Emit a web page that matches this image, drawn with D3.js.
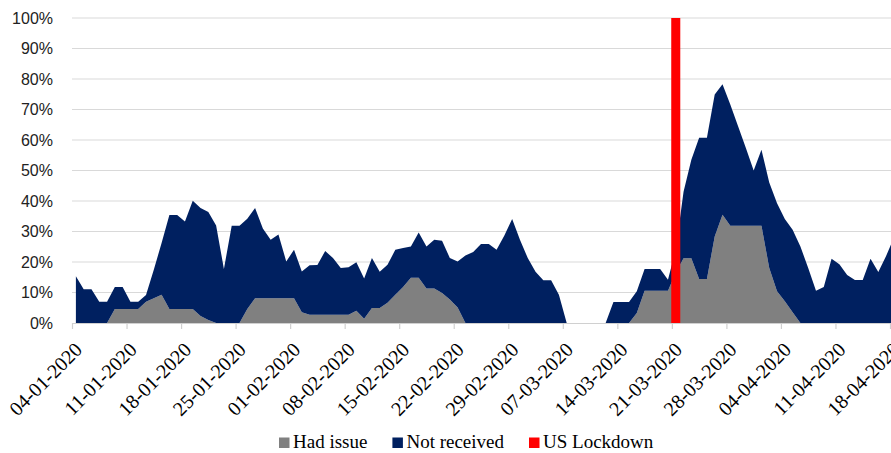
<!DOCTYPE html>
<html>
<head>
<meta charset="utf-8">
<script src="https://cdn.jsdelivr.net/npm/d3@7"></script>
<style>
  body { margin: 0; background: #fff; }
  svg { display: block; }
</style>
</head>
<body>
<div id="chart"></div>
<script>
// daily shares, first value is 04-01-2020
const startDate = "2020-01-04";

const hadIssue = [
    0, 0, 0, 0, 0, 4.6, 4.6, 4.6, 4.6, 7.0,
    8.1, 9.3, 4.6, 4.6, 4.6, 4.6, 2.3, 1.0, 0, 0,
    0, 0, 4.6, 8.1, 8.1, 8.1, 8.1, 8.1, 8.1, 3.5,
    2.7, 2.7, 2.7, 2.7, 2.7, 2.7, 4.0, 1.4, 4.9, 4.9,
    6.6, 9.3, 11.8, 14.8, 14.8, 11.3, 11.3, 9.8, 7.7, 5.1,
    0, 0, 0, 0, 0, 0, 0, 0, 0, 0,
    0, 0, 0, 0, 0, 0, 0, 0, 0, 0,
    0, 0, 3.3, 10.6, 10.6, 10.6, 10.6, 16.5, 21.2, 21.2,
    14.4, 14.4, 28.4, 35.5, 31.9, 31.9, 31.9, 31.9, 31.9, 18.0,
    10.4, 7.1, 3.5, 0, 0, 0, 0, 0, 0, 0,
    0, 0, 0, 0, 0, 0
];

const notReceived = [
    15.3, 11.1, 11.1, 7.0, 7.0, 7.2, 7.2, 2.4, 2.4, 2.2,
    9.4, 16.9, 30.8, 30.8, 28.7, 35.5, 35.4, 35.4, 32.0, 17.7,
    31.9, 31.9, 29.6, 29.6, 22.9, 19.2, 20.9, 12.1, 15.9, 13.4,
    16.2, 16.3, 20.9, 18.6, 15.3, 15.6, 15.9, 13.2, 16.4, 11.9,
    12.5, 14.7, 12.8, 10.3, 14.9, 13.8, 16.0, 17.2, 13.6, 15.1,
    22.1, 23.3, 25.9, 25.9, 24.0, 28.7, 34.1, 27.3, 21.3, 16.8,
    14.0, 14.0, 9.3, 0, 0, 0, 0, 0, 0, 6.9,
    6.9, 6.9, 7.1, 7.1, 7.1, 7.1, 3.6, 7.5, 21.8, 32.3,
    46.3, 46.3, 46.5, 42.8, 39.7, 32.6, 25.5, 18.1, 24.9, 28.1,
    28.9, 27.0, 27.1, 25.1, 18.0, 10.6, 11.8, 21.1, 19.3, 15.7,
    14.1, 14.1, 21.1, 16.7, 22.0, 28.0
];

const lockdownDate = "2020-03-21";
const lockdownValue = 100;

const tickLabels = [
    "04-01-2020", "11-01-2020", "18-01-2020", "25-01-2020",
    "01-02-2020", "08-02-2020", "15-02-2020", "22-02-2020",
    "29-02-2020", "07-03-2020", "14-03-2020", "21-03-2020",
    "28-03-2020", "04-04-2020", "11-04-2020", "18-04-2020"
];

const yTicks = [0, 10, 20, 30, 40, 50, 60, 70, 80, 90, 100];

const seriesNames = ["Had issue", "Not received", "US Lockdown"];
const seriesColors = ["#808080", "#002060", "#ff0000"];

const width = 891, height = 453;
const margin = {top: 18, right: 1, bottom: 130, left: 72};
const plotBottom = height - margin.bottom;

const svg = d3.select("#chart")
    .append("svg")
    .attr("width", width)
    .attr("height", height);

const parseDay = d3.utcParse("%Y-%m-%d");
const parseTick = d3.utcParse("%d-%m-%Y");
const first = parseDay(startDate);
const dates = hadIssue.map((d, i) => d3.utcDay.offset(first, i));
const tickDates = tickLabels.map(parseTick);

const table = dates.map((d, i) => ({date: d, had: hadIssue[i], notrec: notReceived[i]}));

const xScale = d3.scaleUtc()
    .domain([first, tickDates[tickDates.length - 1]])
    .range([margin.left, width - margin.right]);

const yScale = d3.scaleLinear()
    .domain([0, 100])
    .range([plotBottom, margin.top]);

const dayCenter = d => xScale(d3.utcHour.offset(d, 12));
const step = xScale(d3.utcDay.offset(first, 1)) - xScale(first);

// gridlines
svg.append("g")
    .selectAll("line")
    .data(yTicks.filter(d => d > 0))
    .join("line")
    .attr("x1", margin.left)
    .attr("x2", width)
    .attr("y1", d => yScale(d))
    .attr("y2", d => yScale(d))
    .attr("stroke", "#d9d9d9")
    .attr("stroke-width", 1.2);

// stacked areas
const stack = d3.stack().keys(["had", "notrec"]);
const layers = stack(table);

const area = d3.area()
    .x(d => dayCenter(d.data.date))
    .y0(d => yScale(d[0]))
    .y1(d => yScale(d[1]));

svg.append("g")
    .selectAll("path")
    .data(layers)
    .join("path")
    .attr("fill", (d, i) => seriesColors[i])
    .attr("d", area);

// lockdown column
const lock = parseDay(lockdownDate);
svg.append("rect")
    .attr("x", dayCenter(lock) - step * 0.58)
    .attr("width", step * 1.16)
    .attr("y", yScale(lockdownValue))
    .attr("height", yScale(0) - yScale(lockdownValue))
    .attr("fill", seriesColors[2]);

// x axis
const xAxis = svg.append("g")
    .attr("transform", `translate(0,${plotBottom})`)
    .call(d3.axisBottom(xScale)
        .tickValues(tickDates)
        .tickSize(6)
        .tickSizeOuter(0)
        .tickFormat((d, i) => tickLabels[i]));

xAxis.select(".domain")
    .attr("stroke", "#d0d0d0")
    .attr("stroke-width", 1.2)
    .attr("d", `M${margin.left},0.5H${width}`);
xAxis.selectAll(".tick line")
    .attr("stroke", "#d0d0d0")
    .attr("stroke-width", 1.2);
xAxis.selectAll(".tick text")
    .attr("font-family", "'Liberation Serif', 'Times New Roman', serif")
    .attr("font-size", 20)
    .attr("fill", "#000")
    .attr("text-anchor", "end")
    .attr("x", 0)
    .attr("y", 0)
    .attr("dy", "0.35em")
    .attr("transform", "translate(6,23) rotate(-45)");

// y labels
svg.append("g")
    .selectAll("text")
    .data(yTicks)
    .join("text")
    .attr("x", 53)
    .attr("y", d => yScale(d))
    .attr("dy", "0.35em")
    .attr("text-anchor", "end")
    .attr("font-family", "'Liberation Sans', Arial, sans-serif")
    .attr("font-size", 16)
    .attr("fill", "#222")
    .text(d => d + "%");

// legend
const legend = svg.append("g")
    .attr("transform", `translate(279,448)`);
let lx = 0;
seriesNames.forEach((name, i) => {
    const g = legend.append("g").attr("transform", `translate(${lx},0)`);
    g.append("rect")
        .attr("x", 0)
        .attr("y", -10.5)
        .attr("width", 10.5)
        .attr("height", 10.5)
        .attr("fill", seriesColors[i]);
    const t = g.append("text")
        .attr("x", 14)
        .attr("y", 0)
        .attr("font-family", "'Liberation Serif', 'Times New Roman', serif")
        .attr("font-size", 19)
        .attr("fill", "#000")
        .text(name);
    lx += 14 + t.node().getComputedTextLength() + 25;
});
</script>
</body>
</html>
